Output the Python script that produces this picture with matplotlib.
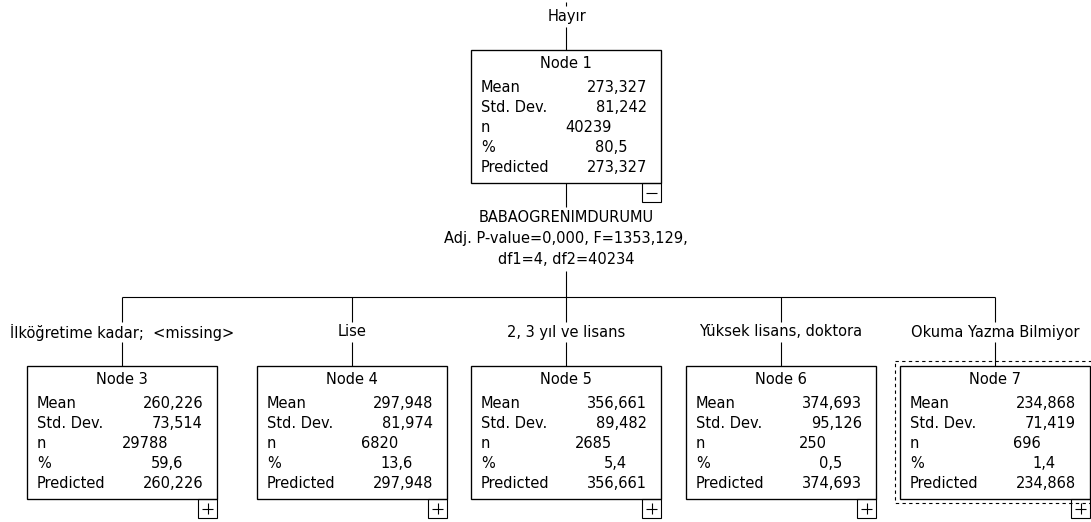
import matplotlib
matplotlib.use("Agg")
import matplotlib.pyplot as plt
from matplotlib.patches import Rectangle

# root node
root_label = "Hayır"
root_id = 1
root_mean = 273.327
root_std = 81.242
root_n = 40239
root_pct = 80.5

# split info
split_var = "BABAOGRENIMDURUMU"
split_stats = ["Adj. P-value=0,000, F=1353,129,", "df1=4, df2=40234"]

# child nodes
node_ids = [3, 4, 5, 6, 7]
categories = ["İlköğretime kadar;  <missing>", "Lise", "2, 3 yıl ve lisans",
              "Yüksek lisans, doktora", "Okuma Yazma Bilmiyor"]
means = [260.226, 297.948, 356.661, 374.693, 234.868]
stds = [73.514, 81.974, 89.482, 95.126, 71.419]
ns = [29788, 6820, 2685, 250, 696]
pcts = [59.6, 13.6, 5.4, 0.5, 1.4]
selected = 7

W, H = 1091, 522
BOX_W, BOX_H = 190, 133
FS = 10.5
LW = 0.8

fig = plt.figure(figsize=(W / 100, H / 100), dpi=100)
ax = fig.add_axes([0, 0, 1, 1])
ax.set_xlim(0, W)
ax.set_ylim(H, 0)
ax.axis("off")


def fmt(v, d):
    return f"{v:.{d}f}".replace(".", ",")


def line(x0, y0, x1, y1, **kw):
    ax.plot([x0, x1], [y0, y1], color="black", lw=LW, solid_capstyle="butt", **kw)


def draw_node(cx, top, nid, mean, std, n, pct, sign):
    left = cx - BOX_W / 2
    right = left + BOX_W
    ax.add_patch(Rectangle((left, top), BOX_W, BOX_H, fill=False, ec="black", lw=LW * 1.2))
    ax.text(cx, top + 13, f"Node {nid}", ha="center", va="center", fontsize=FS)
    rows = [("Mean", fmt(mean, 3), 14),
            ("Std. Dev.", fmt(std, 3), 14),
            ("n", str(n), 49),
            ("%", fmt(pct, 1), 34),
            ("Predicted", fmt(mean, 3), 14)]
    offs = [37, 57, 77, 97, 117]
    for (lab, val, r), dy in zip(rows, offs):
        ax.text(left + 10, top + dy, lab, ha="left", va="center", fontsize=FS)
        ax.text(right - r, top + dy, val, ha="right", va="center", fontsize=FS)
    # expand / collapse button
    bx, by = right - 19, top + BOX_H
    ax.add_patch(Rectangle((bx, by), 19, 19, fill=False, ec="black", lw=LW))
    line(bx + 4, by + 9.5, bx + 15, by + 9.5)
    if sign == "+":
        line(bx + 9.5, by + 4, bx + 9.5, by + 15)


# root
rx = 566
line(rx, 2, rx, 6)
ax.text(rx + 1, 16, root_label, ha="center", va="center", fontsize=FS)
line(rx, 27, rx, 50)
draw_node(rx, 50, root_id, root_mean, root_std, root_n, root_pct, "-")

# split text
line(rx, 183, rx, 207)
ax.text(rx, 217, split_var, ha="center", va="center", fontsize=FS)
ax.text(rx, 238, split_stats[0], ha="center", va="center", fontsize=FS)
ax.text(rx, 259, split_stats[1], ha="center", va="center", fontsize=FS)
line(rx, 271, rx, 297)

child_x = [122, 352, 566, 781, 995]
line(child_x[0], 297, child_x[-1], 297)
for cx, nid, cat, m, s, n, p in zip(child_x, node_ids, categories, means, stds, ns, pcts):
    line(cx, 297, cx, 322)
    ax.text(cx, 332, cat, ha="center", va="center", fontsize=FS)
    line(cx, 342, cx, 366)
    draw_node(cx, 366, nid, m, s, n, p, "+")
    if nid == selected:
        ax.add_patch(Rectangle((cx - 100, 361), 205, 142, fill=False, ec="black",
                               lw=LW, ls=(0, (3, 3))))

fig.savefig("out.png", dpi=100)
